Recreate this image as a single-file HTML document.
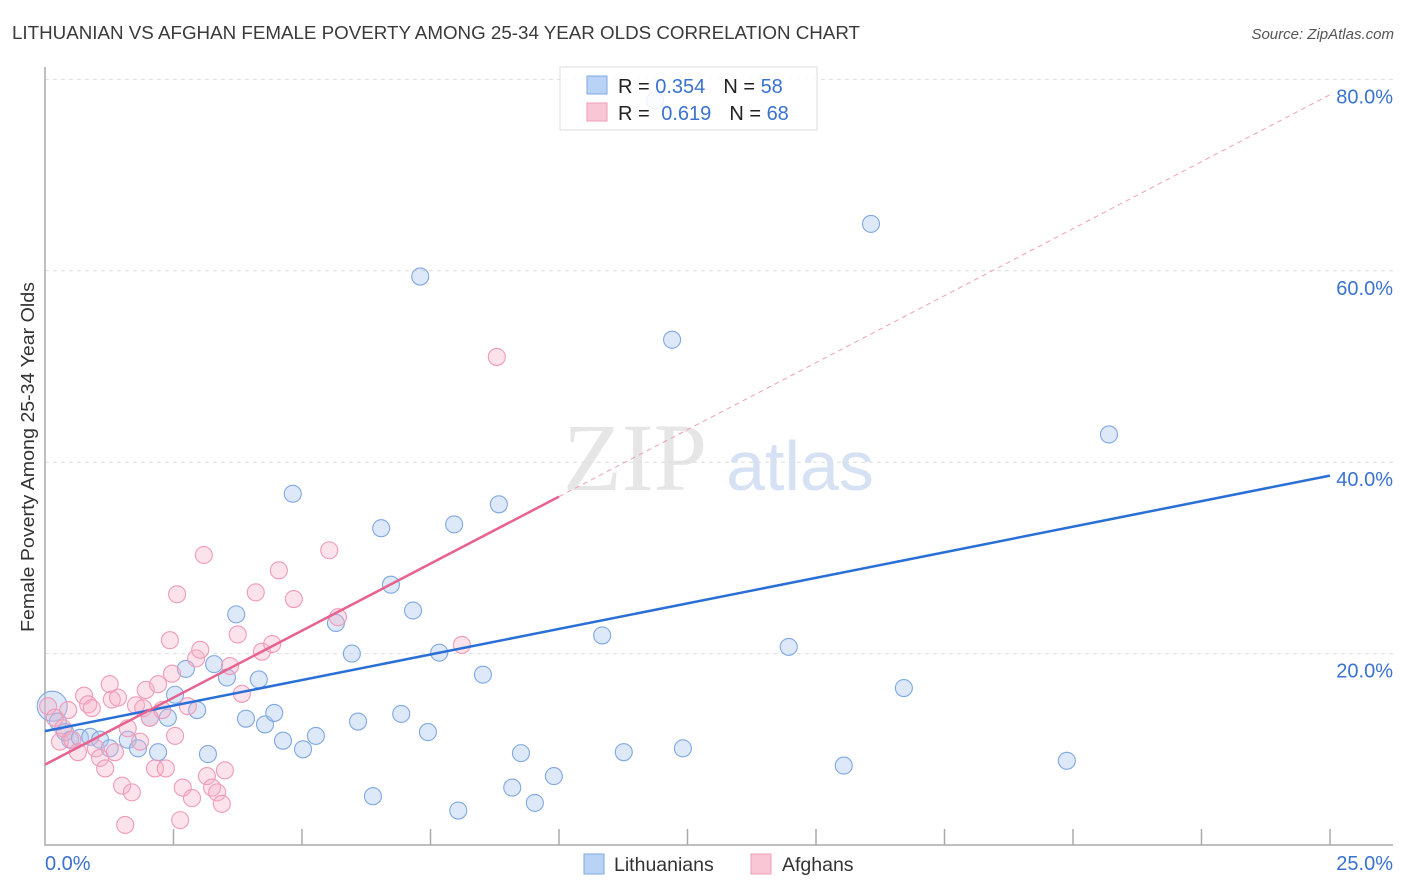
<!DOCTYPE html>
<html><head><meta charset="utf-8"><style>
body{margin:0;background:#fff;font-family:"Liberation Sans",sans-serif;}
svg{display:block}
</style></head><body>
<svg id="chart" width="1406" height="892" xmlns="http://www.w3.org/2000/svg">
<text x="12" y="39" font-size="18" fill="#3a3a3a" textLength="848" lengthAdjust="spacingAndGlyphs">LITHUANIAN VS AFGHAN FEMALE POVERTY AMONG 25-34 YEAR OLDS CORRELATION CHART</text>
<text x="1394" y="39" font-size="15" fill="#555" font-style="italic" text-anchor="end">Source: ZipAtlas.com</text>
<text transform="translate(34,457) rotate(-90)" font-size="18" fill="#333" text-anchor="middle" textLength="350" lengthAdjust="spacingAndGlyphs">Female Poverty Among 25-34 Year Olds</text>
<g><text x="635" y="490" font-size="96" font-family="Liberation Serif,serif" fill="#e6e6e6" text-anchor="middle">ZIP</text><text x="800" y="490" font-size="70" fill="#d6e2f3" text-anchor="middle">atlas</text></g>
<g id="grid"></g><g id="axes"></g><g id="pts"></g><g id="lines"></g>
<g>
<rect x="560" y="67" width="257" height="63" fill="#fff" fill-opacity="0.85" stroke="#ddd"/>
<rect x="587" y="76" width="20" height="18" fill="#b8d3f5" stroke="#7fa9e3"/>
<rect x="587" y="103" width="20" height="18" fill="#f9c6d6" stroke="#ee9db8"/>
<text x="618" y="93" font-size="20" fill="#222">R = <tspan fill="#3a72d0">0.354</tspan><tspan dx="18">N = </tspan><tspan fill="#3a72d0">58</tspan></text>
<text x="618" y="120" font-size="20" fill="#222">R = <tspan dx="6" fill="#3a72d0">0.619</tspan><tspan dx="18">N = </tspan><tspan fill="#3a72d0">68</tspan></text>
</g>
<g>
<rect x="584" y="854" width="20" height="20" fill="#b8d3f5" stroke="#7fa9e3"/>
<text x="614" y="871" font-size="19.5" fill="#333">Lithuanians</text>
<rect x="751" y="854" width="20" height="20" fill="#f9c6d6" stroke="#ee9db8"/>
<text x="782" y="871" font-size="19.5" fill="#333">Afghans</text>
</g>
</svg>
<script>
const yTicks=[20,40,60,80];
const xTickLabels=["0.0%","25.0%"];
const blueX=[0.14,0.25,0.39,0.49,0.68,0.88,1.07,1.26,1.61,1.81,2.04,2.2,2.39,2.53,2.74,2.96,3.17,3.29,3.54,3.72,3.91,4.16,4.28,4.46,4.63,4.82,5.02,5.27,5.66,5.97,6.09,6.38,6.54,6.73,6.93,7.16,7.3,7.45,7.67,7.96,8.04,8.52,8.83,9.09,9.26,9.53,9.9,10.84,11.26,11.87,12.2,12.41,14.47,15.54,16.07,16.71,19.88,20.7];
const blueY=[14.5,12.9,11.8,11.0,11.2,11.3,11.0,10.1,11.0,10.1,13.3,9.7,13.3,15.7,18.4,14.1,9.5,18.9,17.5,24.1,13.2,17.3,12.6,13.8,10.9,36.7,10.0,11.4,23.2,20.0,12.9,5.1,33.1,27.2,13.7,24.5,59.4,11.8,20.1,33.5,3.6,17.8,35.6,6.0,9.6,4.4,7.2,21.9,9.7,77.8,52.8,10.1,20.7,8.3,64.9,16.4,8.8,42.9];
const pinkX=[0.06,0.19,0.29,0.35,0.45,0.53,0.64,0.76,0.84,0.91,0.99,1.07,1.17,1.26,1.3,1.36,1.42,1.5,1.56,1.61,1.69,1.77,1.85,1.91,1.96,2.04,2.14,2.2,2.28,2.35,2.43,2.47,2.53,2.57,2.63,2.68,2.78,2.86,2.94,3.02,3.09,3.15,3.25,3.35,3.44,3.5,3.6,3.75,3.83,4.1,4.22,4.42,4.55,4.84,5.53,5.7,8.11,8.79];
const pinkY=[14.5,13.3,10.8,12.2,14.1,11.0,9.7,15.6,14.7,14.3,10.1,9.1,8.0,16.8,15.2,9.7,15.4,6.2,2.1,12.2,5.5,14.6,10.8,14.3,16.2,13.3,8.0,16.8,14.1,8.0,21.4,17.9,11.4,26.2,2.6,6.0,14.5,4.9,19.5,20.4,30.3,7.2,6.0,5.5,4.3,7.8,18.7,22.0,15.8,26.4,20.2,21.0,28.7,25.7,30.8,23.8,20.9,51.0];
const blueFit=[11.9,38.6];
const pinkFit=[8.4,78.4];
const X0=45,X1=1330,Y0=845,PY=9.57;
const sx=v=>X0+(X1-X0)*v/25, sy=v=>Y0-v*PY;
const NS="http://www.w3.org/2000/svg";
function mk(t,a,p){const e=document.createElementNS(NS,t);for(const k in a)e.setAttribute(k,a[k]);p.appendChild(e);return e;}
const grid=document.getElementById('grid'),axes=document.getElementById('axes'),pts=document.getElementById('pts'),lines=document.getElementById('lines');
yTicks.forEach(v=>{
const l=mk('line',{x1:X0,x2:1393,y1:sy(v),y2:sy(v),stroke:'#ddd','stroke-dasharray':'4,4'},grid);


const t=mk('text',{x:1393,y:sy(v)+24,'font-size':20,fill:'#3a72d0','text-anchor':'end'},axes);
t.textContent=v.toFixed(1)+'%';


});
const ax=mk('path',{d:`M${X0},67V${Y0}H1393`,stroke:'#aaa',fill:'none','stroke-width':1.5},axes);


for(let i=1;i<=10;i++){const tk=mk('line',{x1:sx(i*2.5),x2:sx(i*2.5),y1:Y0,y2:Y0-16,stroke:'#aaa','stroke-width':1.5},axes);

}
const xl0=mk('text',{x:45,y:870,'font-size':20,fill:'#3a72d0'},axes);xl0.textContent=xTickLabels[0];


const xl1=mk('text',{x:1393,y:870,'font-size':20,fill:'#3a72d0','text-anchor':'end'},axes);xl1.textContent=xTickLabels[1];


blueX.forEach((x,i)=>{const c=mk('circle',{cx:sx(x),cy:sy(blueY[i]),r:i===0?15:8.5,fill:'#a9c8f0','fill-opacity':0.4,stroke:'#7fa8e3','stroke-width':1.1},pts);

});
pinkX.forEach((x,i)=>{const c=mk('circle',{cx:sx(x),cy:sy(pinkY[i]),r:8.5,fill:'#f5b0c6','fill-opacity':0.35,stroke:'#f09ab8','stroke-width':1.1},pts);

});
const bl=mk('line',{x1:sx(0),y1:sy(blueFit[0]),x2:sx(25),y2:sy(blueFit[1]),stroke:'#2a6fd6','stroke-width':2.5},lines);


const ps=(pinkFit[1]-pinkFit[0])/25;
const pl=mk('line',{x1:sx(0),y1:sy(pinkFit[0]),x2:sx(10),y2:sy(pinkFit[0]+ps*10),stroke:'#e8628f','stroke-width':2.5},lines);


const pd=mk('line',{x1:sx(10),y1:sy(pinkFit[0]+ps*10),x2:sx(25),y2:sy(pinkFit[1]),stroke:'#eda0ba','stroke-width':1,'stroke-dasharray':'5,4'},lines);


</script>
</body></html>
